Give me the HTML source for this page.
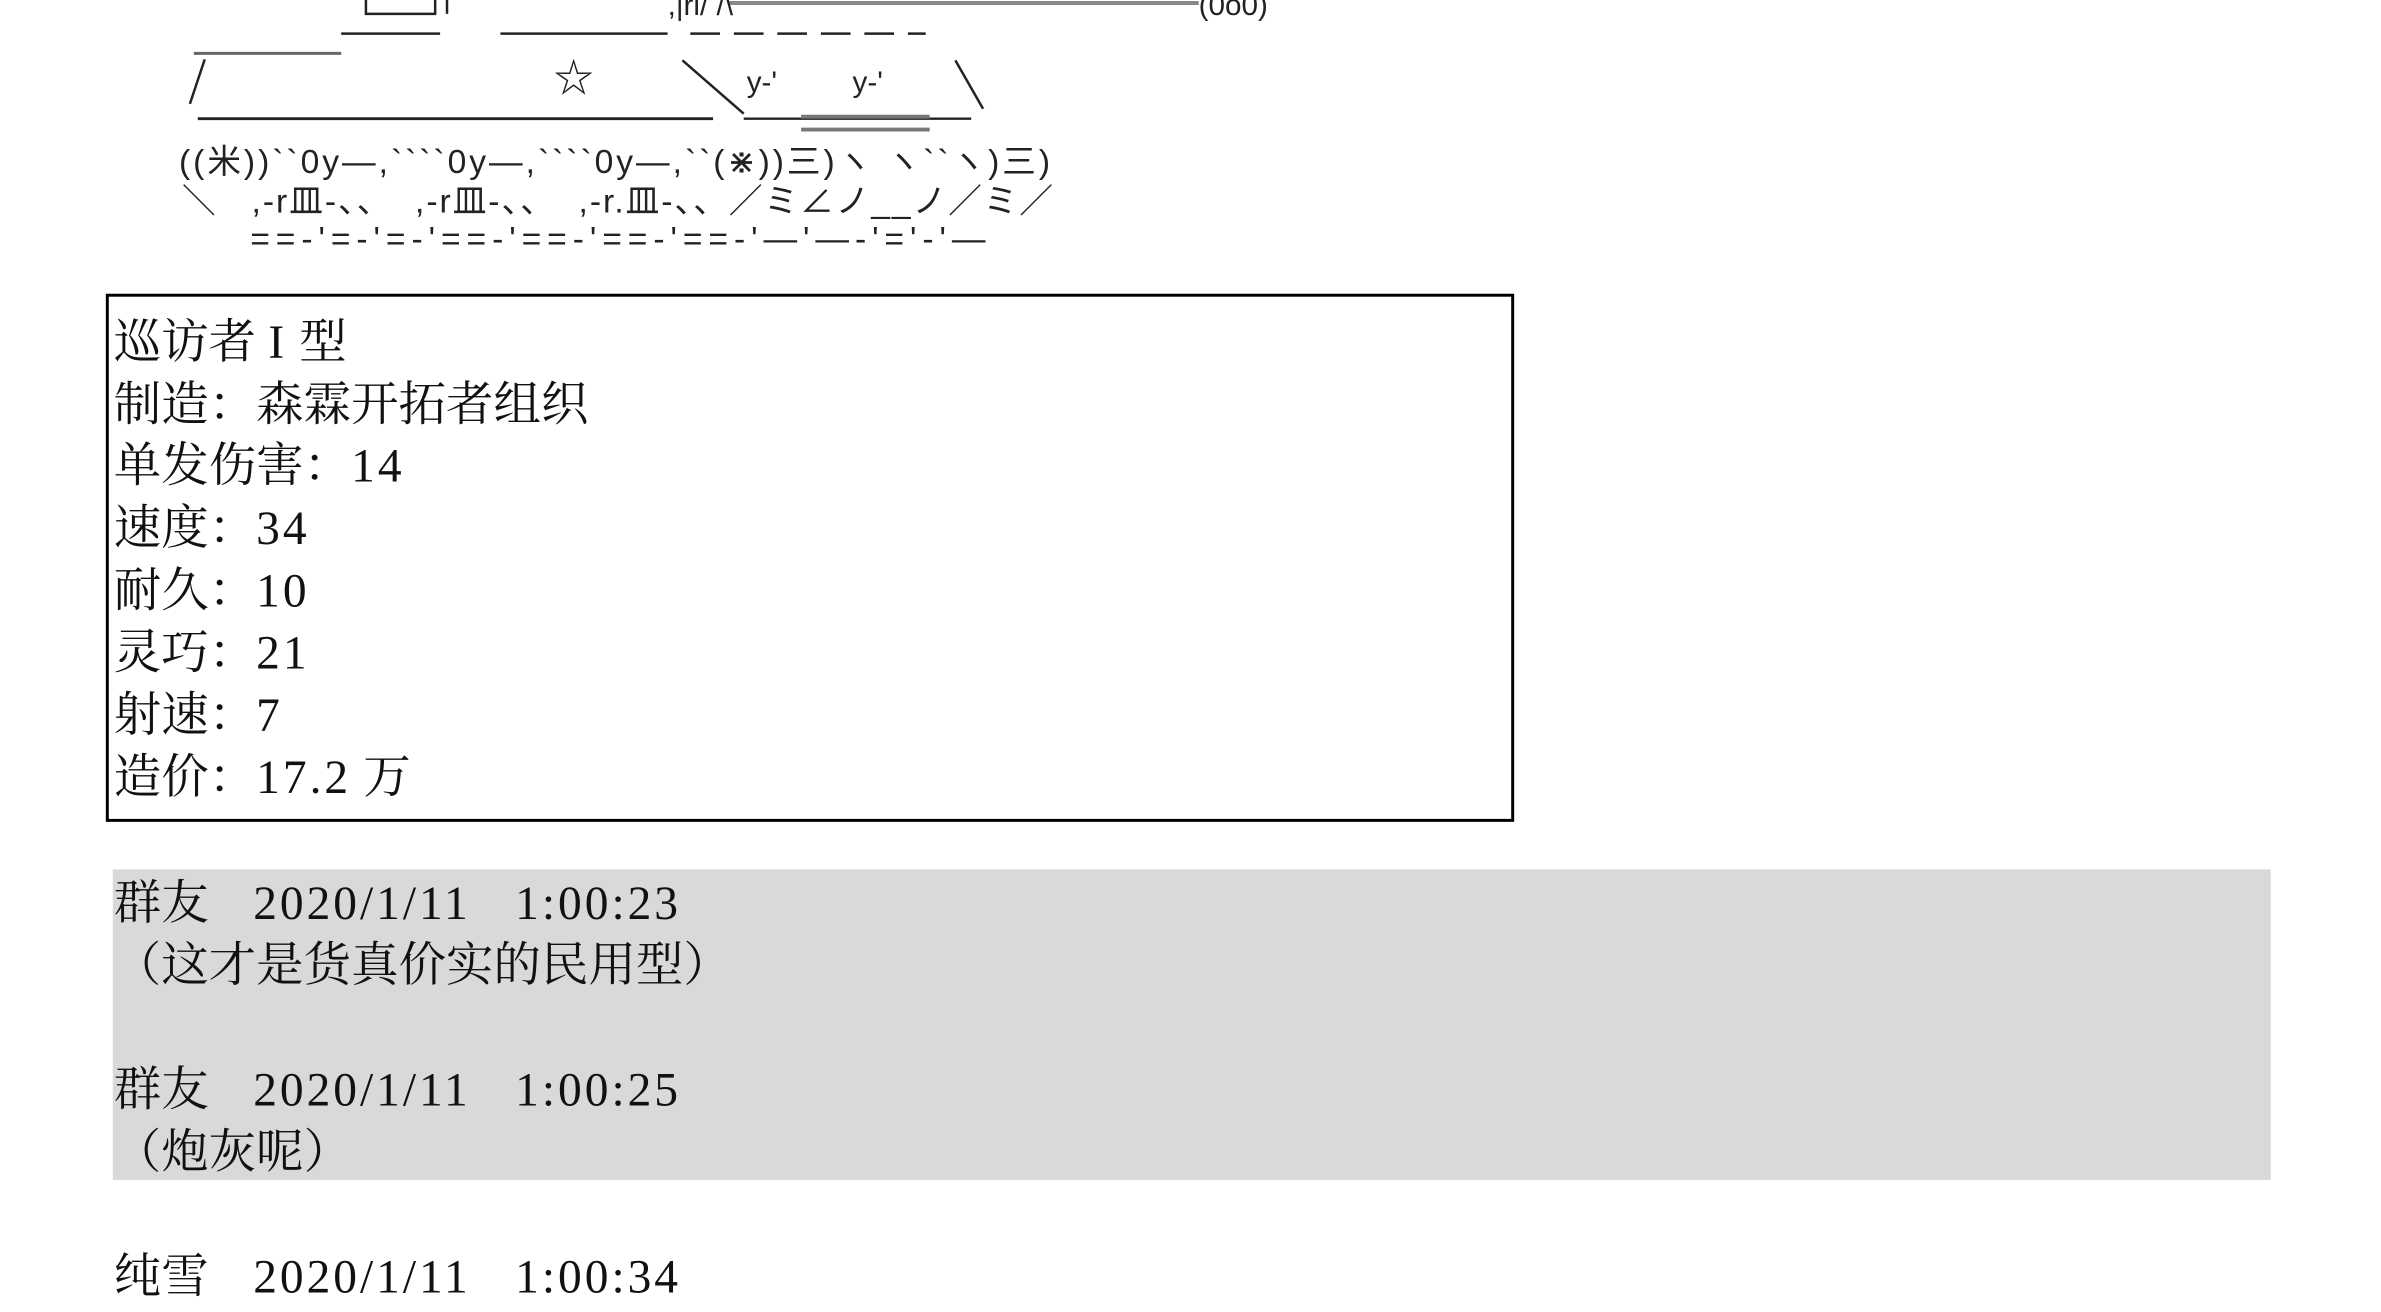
<!DOCTYPE html>
<html><head><meta charset="utf-8"><style>
html,body{margin:0;padding:0;background:#fff;width:2381px;height:1312px;overflow:hidden;position:relative}
#w{position:absolute;left:0;top:0;width:2420px;height:1330px;transform:scale(0.989);transform-origin:0 0}
.t{position:absolute;left:115px;white-space:pre;font-family:"Noto Serif CJK SC","Liberation Serif",serif;font-size:48px;line-height:60px;color:#111}
.t b{font-weight:normal;font-family:"Liberation Serif",serif;font-size:48px;letter-spacing:3px}
.a{position:absolute;white-space:pre;font-family:"Liberation Sans","Noto Sans CJK SC",sans-serif;font-size:34px;line-height:36px;color:#222}
svg{position:absolute;left:0;top:0}
</style></head><body><div id="w">
<svg width="2381" height="300">
<g stroke="#222" stroke-width="2.5" fill="none">
  <path d="M370 0 V14 H440 V0 M452 0 V14"/>
  <line x1="736" y1="3" x2="1212" y2="3" stroke="#888" stroke-width="4"/>
  <line x1="345" y1="34" x2="445" y2="34"/>
  <line x1="506" y1="34" x2="675" y2="34"/>
  <line x1="698" y1="34" x2="936" y2="34" stroke-dasharray="30 14"/>
  <line x1="196" y1="54" x2="345" y2="54" stroke="#666" stroke-width="3"/>
  <line x1="207" y1="60" x2="192" y2="105"/>
  <line x1="690" y1="61" x2="752" y2="115"/>
  <line x1="966" y1="61" x2="994" y2="110"/>
  <line x1="200" y1="120" x2="721" y2="120" stroke-width="3"/>
  <line x1="752" y1="120" x2="982" y2="120"/>
  <line x1="810" y1="118" x2="940" y2="118" stroke="#777" stroke-width="4"/>
  <line x1="810" y1="131" x2="940" y2="131" stroke="#777" stroke-width="4"/>
</g>
</svg>
<div class="a" style="left:1212px;top:-12px;font-size:30px">(0ō0)</div>
<div class="a" style="left:675px;top:-12px;font-size:30px">,|rl/ /\</div>
<div class="a" style="left:560px;top:58px;font-size:40px;line-height:44px">☆</div>
<div class="a" style="left:755px;top:66px;font-size:30px">y‐'</div>
<div class="a" style="left:862px;top:66px;font-size:30px">y‐'</div>
<div class="a" style="left:181px;top:146px;letter-spacing:3px">((米))&#96;&#96;0y―,&#96;&#96;&#96;&#96;0y―,&#96;&#96;&#96;&#96;0y―,&#96;&#96;(⋇))三)ヽ ヽ&#96;&#96;ヽ)三)</div>
<div class="a" style="left:184px;top:186px;letter-spacing:2px">＼   ,-r皿-、、  ,-r皿-、、  ,-r.皿-、、／ミ∠ノ__ノ／ミ／</div>
<div class="a" style="left:253px;top:224px;letter-spacing:6px">==-'=-'=-'==-'==-'==-'==-'―'―-'='-'―</div>

<div style="position:absolute;left:107px;top:297px;width:1418px;height:528px;border:3px solid #000"></div>
<div class="t" style="top:312px">巡访者 <b>I</b> 型</div>
<div class="t" style="top:375px">制造：森霖开拓者组织</div>
<div class="t" style="top:437px">单发伤害：<b>14</b></div>
<div class="t" style="top:500px">速度：<b>34</b></div>
<div class="t" style="top:563px">耐久：<b>10</b></div>
<div class="t" style="top:626px">灵巧：<b>21</b></div>
<div class="t" style="top:689px">射速：<b>7</b></div>
<div class="t" style="top:752px">造价：<b>17.2</b> 万</div>

<div style="position:absolute;left:114px;top:879px;width:2182px;height:314px;background:#d9d9d9"></div>
<div class="t" style="top:879px">群友<b>   2020/1/11   1:00:23</b></div>
<div class="t" style="top:942px">（这才是货真价实的民用型）</div>
<div class="t" style="top:1068px">群友<b>   2020/1/11   1:00:25</b></div>
<div class="t" style="top:1131px">（炮灰呢）</div>
<div class="t" style="top:1257px">纯雪<b>   2020/1/11   1:00:34</b></div>
</div></body></html>
